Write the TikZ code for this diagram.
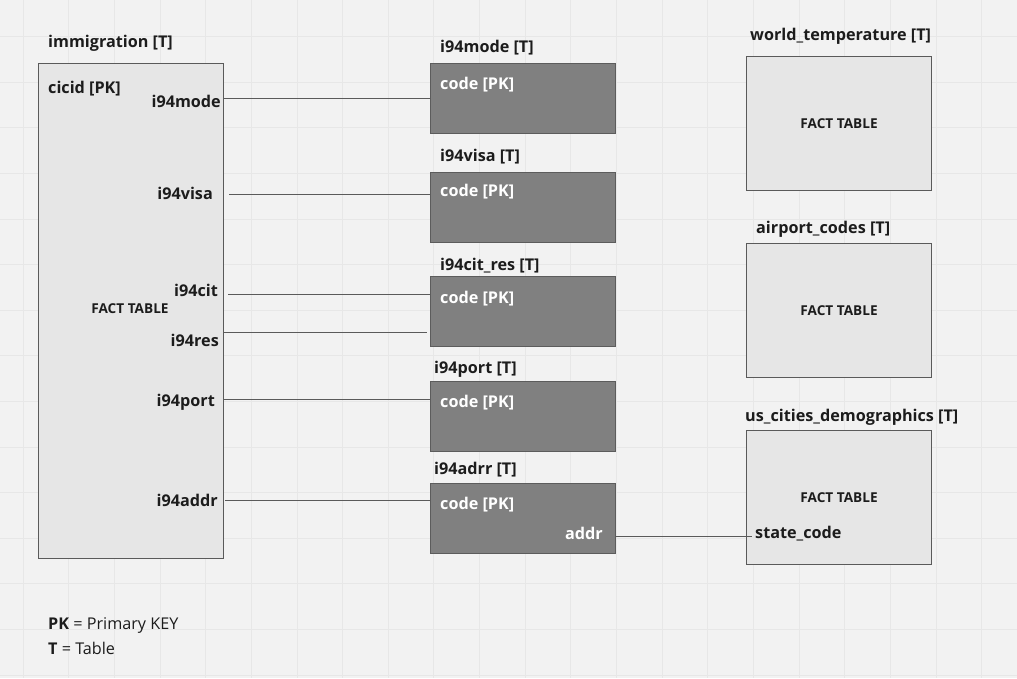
\documentclass[tikz,border=0pt]{standalone}
\usepackage{fontspec}
\setmainfont{Open Sans}
\usetikzlibrary{positioning}
\definecolor{bgcol}{HTML}{F2F2F2}
\definecolor{gridcol}{HTML}{E7E7E7}
\definecolor{factfill}{HTML}{E6E6E6}
\definecolor{factline}{HTML}{5A5A5A}
\definecolor{dimfill}{HTML}{808080}
\definecolor{dimline}{HTML}{5C5C5C}
\definecolor{txtcol}{HTML}{1C1C1C}
\definecolor{linkcol}{HTML}{5A5A5A}

\begin{document}
\begin{tikzpicture}[
  x=1pt, y=-1pt,
  facttbl/.style={draw=factline,fill=factfill,line width=1.1pt,minimum width=185pt,anchor=north west,inner sep=0pt},
  dimtbl/.style={draw=dimline,fill=dimfill,line width=1.1pt,minimum width=185pt,minimum height=70pt,anchor=north west,inner sep=0pt},
  tbltitle/.style={font=\bfseries\fontsize{16.2}{18}\selectfont,text=txtcol,anchor=west,inner sep=0pt,yshift=-1.5pt},
  fieldlbl/.style={font=\bfseries\fontsize{16.2}{18}\selectfont,text=txtcol,inner sep=0pt,yshift=-1.5pt},
  pklbl/.style={font=\bfseries\fontsize{16.2}{18}\selectfont,text=white,inner sep=0pt,yshift=-1.5pt},
  facttag/.style={font=\bfseries\fontsize{13.6}{15}\selectfont,text=txtcol,inner sep=0pt},
  legend/.style={font=\fontsize{16.2}{18}\selectfont,text=txtcol,anchor=west,inner sep=0pt,yshift=-1.5pt},
  link/.style={draw=linkcol,line width=0.9pt},
  gridln/.style={draw=gridcol,line width=0.8pt}
]
% canvas and grid
\fill[bgcol] (0,0) rectangle (1017,678);
\useasboundingbox (0,0) rectangle (1017,678);
\foreach \gx in {0,...,21} \draw[gridln] ({23+45.65*\gx},0) -- ({23+45.65*\gx},678);
\foreach \gy in {0,...,14} \draw[gridln] (0,{36.5+45.6*\gy}) -- (1017,{36.5+45.6*\gy});

% fact table immigration
\node[facttbl,minimum height=495pt] (imm) at (38,63) {};
\node[tbltitle] (immT) at (48,42) {immigration [T]};
\node[fieldlbl,anchor=west] (cicid) at (48,87) {cicid [PK]};
\node[fieldlbl,anchor=east] (fmode) at (221,100) {i94mode};
\node[fieldlbl,anchor=east] (fvisa) at (213,192) {i94visa};
\node[fieldlbl,anchor=east] (fcit) at (218,289) {i94cit};
\node[facttag] (immF) at (130,309) {FACT TABLE};
\node[fieldlbl,anchor=east] (fres) at (219,339) {i94res};
\node[fieldlbl,anchor=east] (fport) at (215,401) {i94port};
\node[fieldlbl,anchor=east] (faddr) at (218,499) {i94addr};

% dimension tables
\node[dimtbl] (mode) at (430,63) {};
\node[tbltitle] (modeT) at (440,46) {i94mode [T]};
\node[pklbl,anchor=west] (modePK) at (440,83) {code [PK]};
\node[dimtbl] (visa) at (430,172) {};
\node[tbltitle] (visaT) at (440,155) {i94visa [T]};
\node[pklbl,anchor=west] (visaPK) at (440,190) {code [PK]};
\node[dimtbl] (citres) at (430,276) {};
\node[tbltitle] (citresT) at (440,264) {i94cit\_res [T]};
\node[pklbl,anchor=west] (citresPK) at (440,297) {code [PK]};
\node[dimtbl] (port) at (430,381) {};
\node[tbltitle] (portT) at (434,368) {i94port [T]};
\node[pklbl,anchor=west] (portPK) at (440,401) {code [PK]};
\node[dimtbl] (adrr) at (430,483) {};
\node[tbltitle] (adrrT) at (434,468) {i94adrr [T]};
\node[pklbl,anchor=west] (adrrPK) at (440,503) {code [PK]};
\node[pklbl,anchor=east] (adrrA) at (603,532) {addr};

% other fact tables
\node[facttbl,minimum height=134pt] (wtemp) at (746,56) {};
\node[tbltitle] (wtempT) at (750,35) {world\_temperature [T]};
\node[facttag] (wtempF) at (wtemp.center) {FACT TABLE};
\node[facttbl,minimum height=134pt] (airport) at (746,243) {};
\node[tbltitle] (airportT) at (756,228) {airport\_codes [T]};
\node[facttag] (airportF) at (airport.center) {FACT TABLE};
\node[facttbl,minimum height=134pt] (cities) at (746,430) {};
\node[tbltitle] (citiesT) at (745,416) {us\_cities\_demographics [T]};
\node[facttag] (citiesF) at (cities.center) {FACT TABLE};
\node[fieldlbl,anchor=west] (fstate) at (755,532) {state\_code};

% links
\draw[link] ([yshift=3.5pt]fmode.east -| imm.east) -- ([yshift=3.5pt]fmode.east -| mode.west);
\draw[link] ([xshift=5pt,yshift=-0.5pt]fvisa.east -| imm.east) -- ([yshift=-0.5pt]fvisa.east -| visa.west);
\draw[link] ([xshift=4pt,yshift=-3.5pt]fcit.east -| imm.east) -- ([yshift=-3.5pt]fcit.east -| citres.west);
\draw[link] ([yshift=8.5pt]fres.east -| imm.east) -- ([xshift=-3pt,yshift=8.5pt]fres.east -| citres.west);
\draw[link] ([yshift=3.5pt]fport.east -| imm.east) -- ([yshift=3.5pt]fport.east -| port.west);
\draw[link] ([xshift=1pt,yshift=0.5pt]faddr.east -| imm.east) -- ([yshift=0.5pt]faddr.east -| adrr.west);
\draw[link] ([yshift=-2.5pt]adrrA.east -| adrr.east) -- ([xshift=-3pt,yshift=-2.5pt]fstate.west);

% legend
\node[legend] (legPK) at (48,624) {\textbf{PK} = Primary KEY};
\node[legend] (legT) at (48,647) {\textbf{T} = Table};
\end{tikzpicture}
\end{document}
